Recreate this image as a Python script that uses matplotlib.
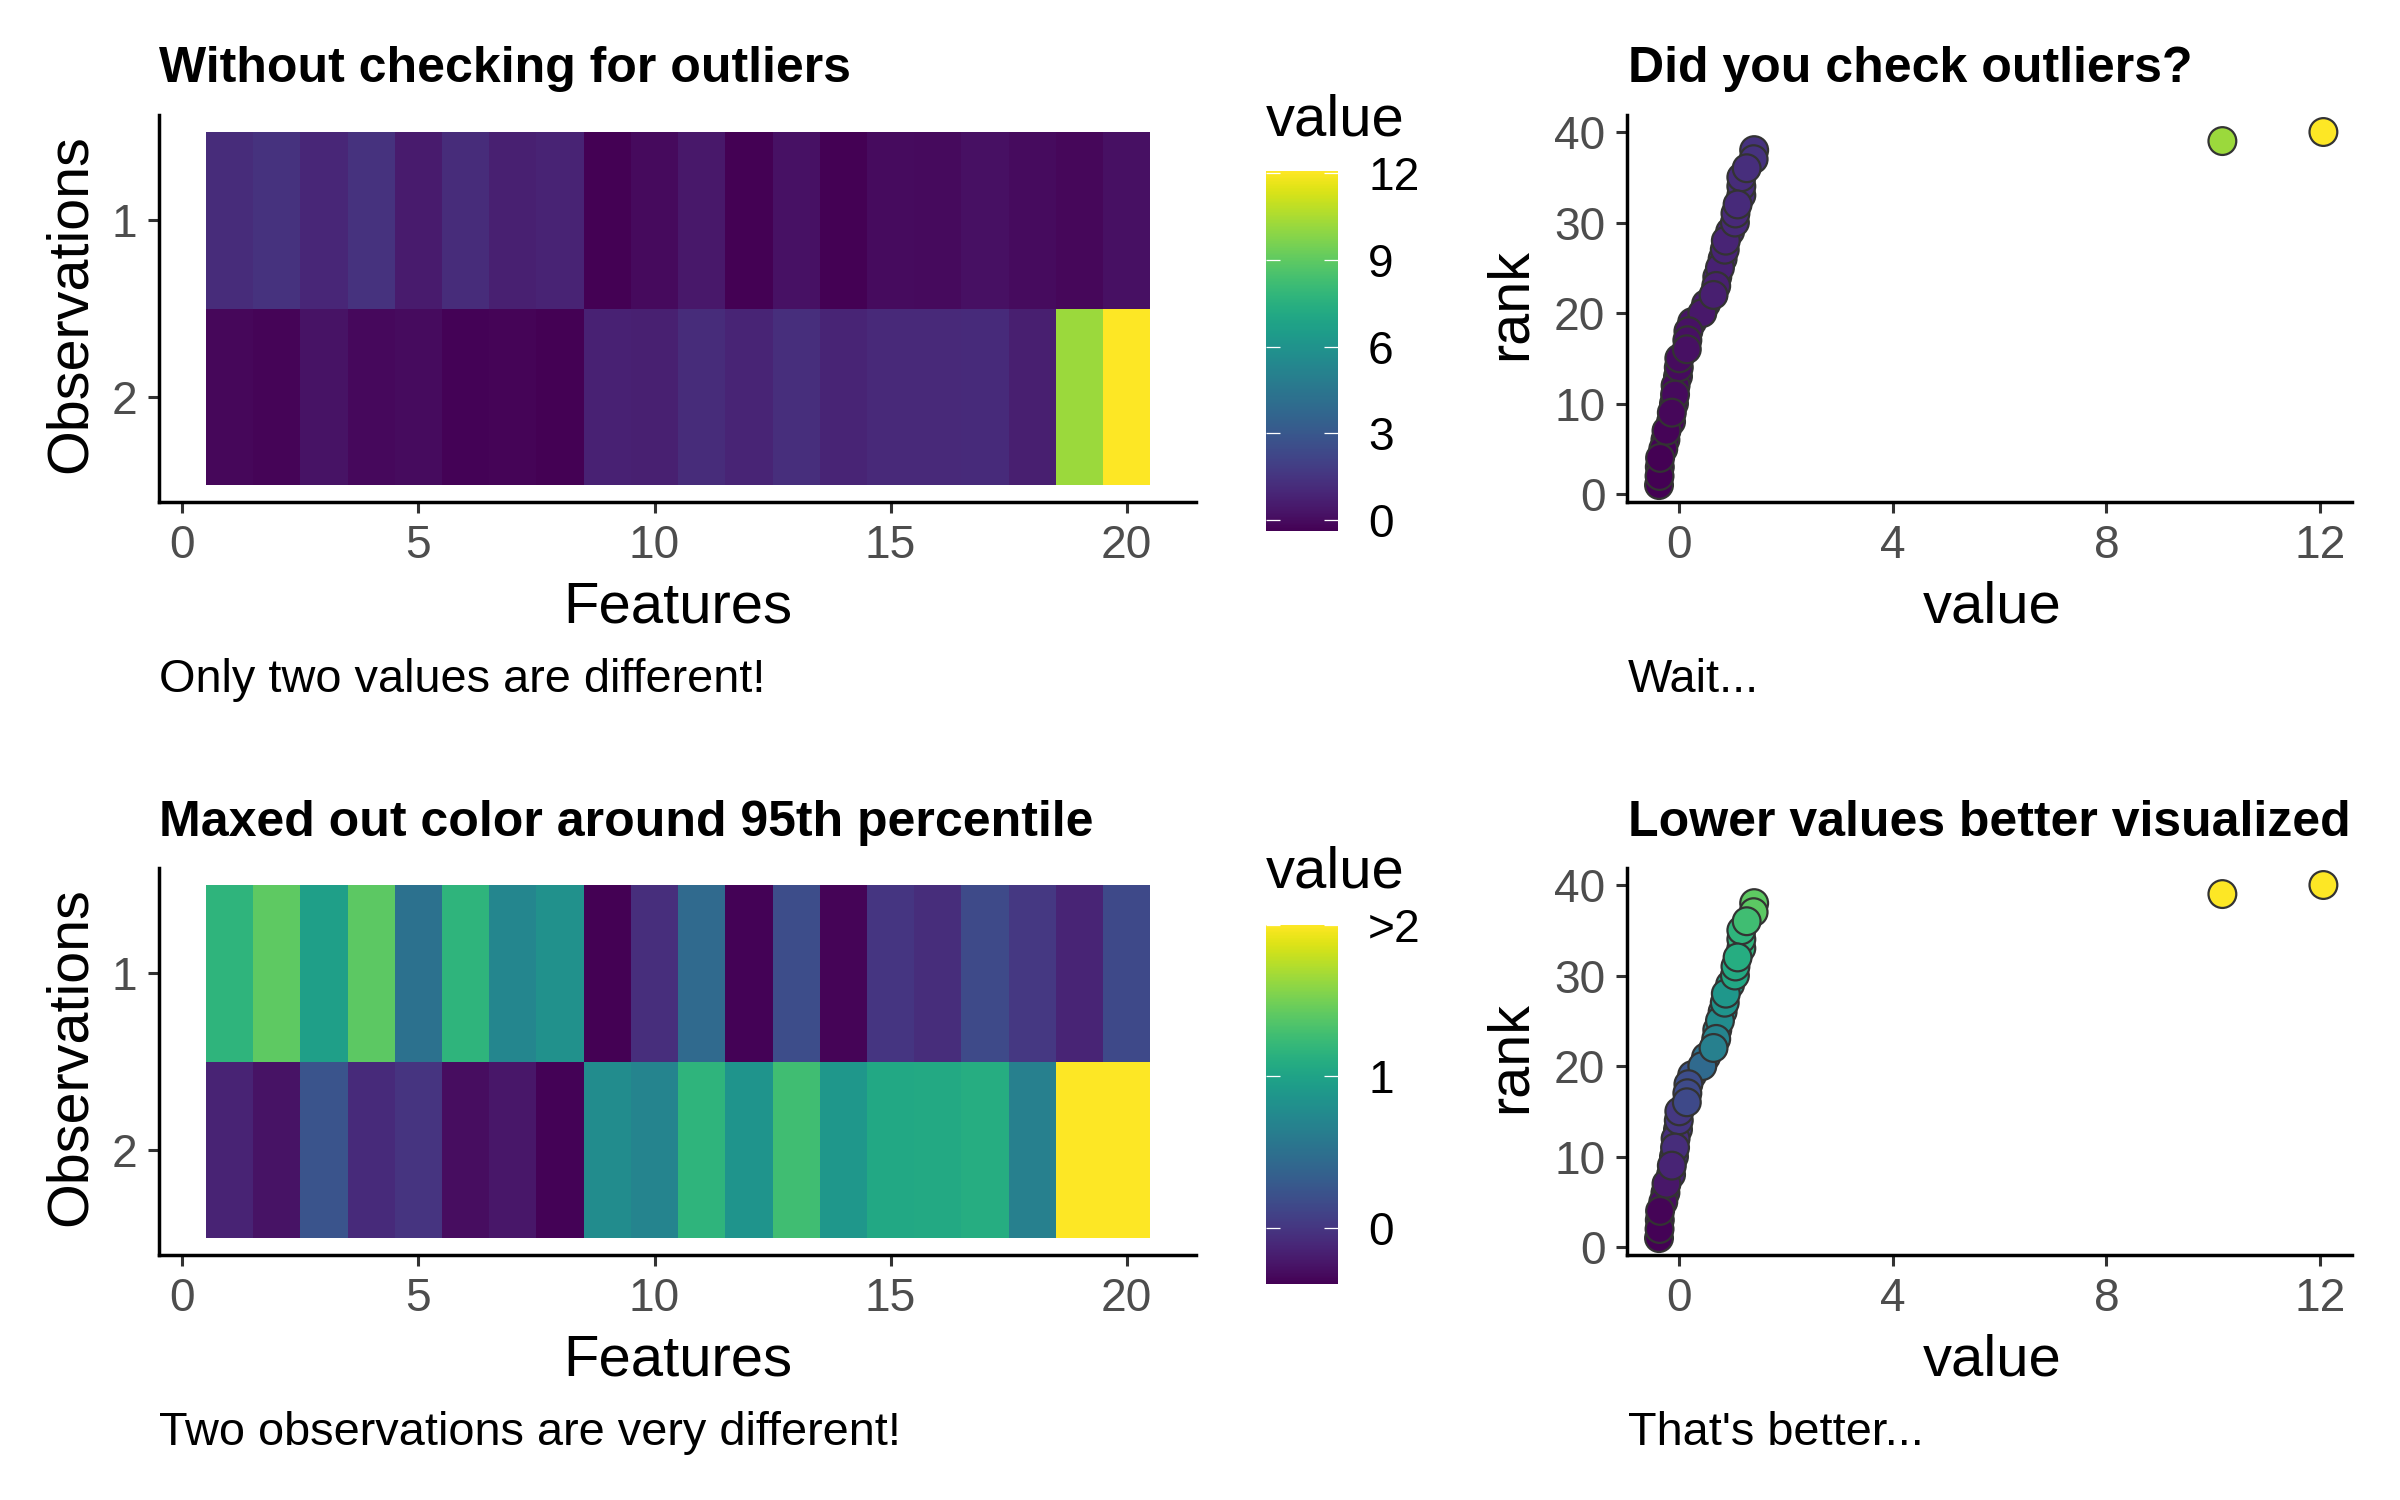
import numpy as np
import matplotlib
matplotlib.use("Agg")
import matplotlib.pyplot as plt
from matplotlib.colors import Normalize
from matplotlib.cm import ScalarMappable

plt.rcParams['font.family'] = ['Liberation Sans', 'DejaVu Sans']

# ---------- data ----------
features = list(range(1, 21))
obs_1 = [1.17, 1.41, 0.96, 1.40, 0.51, 1.17, 0.72, 0.82, -0.37, -0.06,
         0.44, -0.36, 0.18, -0.35, 0.00, -0.07, 0.16, 0.01, -0.13, 0.15]
obs_2 = [-0.145, -0.25, 0.25, -0.09, -0.015, -0.29, -0.23, -0.355, 0.77, 0.70,
         1.17, 0.86, 1.27, 0.88, 1.05, 1.06, 1.10, 0.65, 10.17, 12.06]
heat_xticks = [0, 5, 10, 15, 20]
heat_yticks = [1, 2]
scatter_xticks = [0, 4, 8, 12]
scatter_yticks = [0, 10, 20, 30, 40]
cbar_ticks_raw = [0, 3, 6, 9, 12]
cbar_labels_raw = ['0', '3', '6', '9', '12']
cbar_ticks_cap = [0, 1, 2]
cbar_labels_cap = ['0', '1', '>2']
color_cap = 2.0
titles = ["Without checking for outliers", "Did you check outliers?",
          "Maxed out color around 95th percentile", "Lower values better visualized"]
captions = ["Only two values are different!", "Wait...",
            "Two observations are very different!", "That's better..."]

# ---------- layout ----------
W, H = 2400, 1500
fig = plt.figure(figsize=(12, 7.5), dpi=200, facecolor='white')
OFFSET = 753


def rect(l, t, r, b):
    return [l / W, 1 - b / H, (r - l) / W, (b - t) / H]


def ptext(x, y, s, **kw):
    fig.text(x / W, 1 - y / H, s, **kw)


matrix = np.array([obs_1, obs_2])
vmin, vmax = matrix.min(), matrix.max()
norm_raw = Normalize(vmin, vmax)
norm_cap = Normalize(vmin, color_cap)
cmap = plt.get_cmap('viridis')

long_vals = matrix.ravel(order='F')          # feature by feature, as drawn
ranks = long_vals.argsort().argsort() + 1


def style(ax):
    for s in ('top', 'right'):
        ax.spines[s].set_visible(False)
    for s in ('left', 'bottom'):
        ax.spines[s].set_linewidth(1.25)
        ax.spines[s].set_color('black')
    ax.tick_params(length=4, width=1.1, color='#333333', labelcolor='#4D4D4D',
                   labelsize=16.6, pad=3.8)


def heat_panel(dy, norm, ticks, labels, bar_top, bar_bottom):
    ax = fig.add_axes(rect(159, 115 + dy, 1196, 502 + dy))
    xe = np.arange(0.5, 21.5)
    ye = np.array([0.5, 1.5, 2.5])
    ax.pcolormesh(xe, ye, matrix, cmap=cmap, norm=norm, linewidth=0, rasterized=True)
    ax.set_xlim(-0.496, 21.47)
    ax.set_ylim(2.595, 0.405)
    ax.set_xticks(heat_xticks)
    ax.set_yticks(heat_yticks)
    style(ax)
    ptext(678, 622 + dy, 'Features', fontsize=20.9, ha='center', va='baseline')
    ptext(98, 304 + dy, 'Observations', fontsize=20.7, rotation=90, ha='right', va='center')
    cax = fig.add_axes(rect(1266, bar_top, 1338, bar_bottom))
    cb = fig.colorbar(ScalarMappable(norm=norm, cmap=cmap), cax=cax)
    cb.outline.set_visible(False)
    cb.set_ticks(ticks)
    cb.set_ticklabels(labels)
    cax.tick_params(length=0, labelsize=16.6, labelcolor='black', pad=10.8)
    cax.hlines(ticks, 0, 0.19, color='white', lw=0.45, clip_on=True)
    cax.hlines(ticks, 0.81, 1, color='white', lw=0.45, clip_on=True)
    ptext(1266, 135 + dy, 'value', fontsize=20.9, ha='left', va='baseline')


def scatter_panel(dy, norm):
    ax = fig.add_axes(rect(1627, 115 + dy, 2352, 502 + dy))
    ax.scatter(long_vals, ranks, c=long_vals, cmap=cmap, norm=norm, s=100,
               edgecolors='#333333', linewidths=0.8, zorder=3, clip_on=False)
    ax.set_xlim(-0.969, 12.595)
    ax.set_ylim(-0.87, 41.88)
    ax.set_xticks(scatter_xticks)
    ax.set_yticks(scatter_yticks)
    style(ax)
    ptext(1992, 622 + dy, 'value', fontsize=20.9, ha='center', va='baseline')
    ptext(1538, 304 + dy, 'rank', fontsize=20.7, rotation=90, ha='right', va='center')


heat_panel(0, norm_raw, cbar_ticks_raw, cbar_labels_raw, 171, 531)
scatter_panel(0, norm_raw)
heat_panel(OFFSET, norm_cap, cbar_ticks_cap, cbar_labels_cap, 925, 1284)
scatter_panel(OFFSET, norm_cap)

for dy, (tl, tr, cl, cr) in [(0, (titles[0], titles[1], captions[0], captions[1])),
                             (OFFSET, (titles[2], titles[3], captions[2], captions[3]))]:
    ptext(159, 82.5 + dy, tl, fontsize=18.0, fontweight='bold', ha='left', va='baseline')
    ptext(1628, 82.5 + dy, tr, fontsize=18.0, fontweight='bold', ha='left', va='baseline')
    ptext(159, 692 + dy, cl, fontsize=16.9, ha='left', va='baseline')
    ptext(1628, 692 + dy, cr, fontsize=16.9, ha='left', va='baseline')

fig.savefig('out.png', dpi=200, facecolor='white')
